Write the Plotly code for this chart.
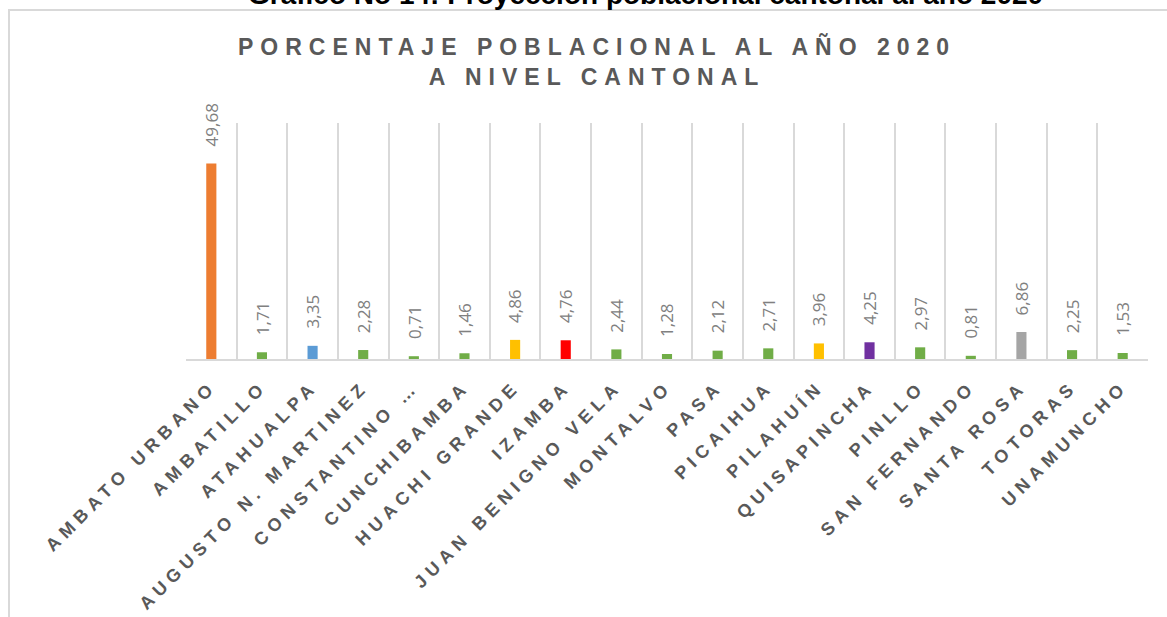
import plotly.graph_objects as go

# ---- data ----
categories = ["AMBATO URBANO", "AMBATILLO", "ATAHUALPA", "AUGUSTO N. MARTINEZ",
              "CONSTANTINO …", "CUNCHIBAMBA", "HUACHI GRANDE", "IZAMBA",
              "JUAN BENIGNO VELA", "MONTALVO", "PASA", "PICAIHUA", "PILAHUÍN",
              "QUISAPINCHA", "PINLLO", "SAN FERNANDO", "SANTA ROSA", "TOTORAS",
              "UNAMUNCHO"]
values = [49.68, 1.71, 3.35, 2.28, 0.71, 1.46, 4.86, 4.76, 2.44, 1.28,
          2.12, 2.71, 3.96, 4.25, 2.97, 0.81, 6.86, 2.25, 1.53]
bar_colors = ["#ED7D31", "#70AD47", "#5B9BD5", "#70AD47", "#70AD47", "#70AD47",
              "#FFC000", "#FF0000", "#70AD47", "#70AD47", "#70AD47", "#70AD47",
              "#FFC000", "#7030A0", "#70AD47", "#70AD47", "#A5A5A5", "#70AD47",
              "#70AD47"]
page_title = "Gráfico No 14: Proyección poblacional cantonal al año 2020"
chart_title = "PORCENTAJE POBLACIONAL AL AÑO 2020<br>A NIVEL CANTONAL"

W, H = 1167, 617
L, R, T, B = 186, 19, 123, 258
pw, ph = W - L - R, H - T - B


def px_x(p):
    return (p - L) / pw


def px_y(p):
    return (H - B - p) / ph


fig = go.Figure()
fig.add_trace(go.Bar(
    x=categories, y=values, width=0.2,
    marker=dict(color=bar_colors, line=dict(width=0)),
    hoverinfo="x+y", showlegend=False,
))

# data labels
for c, v in zip(categories, values):
    fig.add_annotation(
        x=c, y=v, xref="x", yref="y", text=f"{v:.2f}".replace(".", ","),
        textangle=-90, showarrow=False, yanchor="bottom", xanchor="center",
        yshift=15, font=dict(family="Open Sans", size=17, color="#808080"),
    )

# chart title
fig.add_annotation(
    x=px_x(597), y=px_y(61.5), xref="paper", yref="paper", text=chart_title,
    showarrow=False, xanchor="center", yanchor="middle",
    font=dict(family="Liberation Sans", size=23, color="#595959", weight="bold"),
)

# page caption (cut off at the top, as in the source)
fig.add_annotation(
    x=px_x(645), y=px_y(12), xref="paper", yref="paper", text=page_title,
    showarrow=False, xanchor="center", yanchor="bottom",
    font=dict(family="Liberation Sans", size=28, color="#000000", weight="bold"),
)

# chart frame
fig.add_shape(type="rect", xref="paper", yref="paper",
              x0=px_x(9), y0=px_y(640), x1=px_x(1200), y1=px_y(10),
              line=dict(color="#D9D9D9", width=2), fillcolor="rgba(0,0,0,0)",
              layer="below")

fig.update_layout(
    width=W, height=H,
    margin=dict(l=L, r=R, t=T, b=B, autoexpand=False),
    paper_bgcolor="white", plot_bgcolor="white",
    bargap=0.8,
    xaxis=dict(
        type="category", tickson="boundaries", showgrid=True,
        gridcolor="#D9D9D9", gridwidth=2, showline=True, linecolor="#D9D9D9",
        linewidth=2, ticks="", tickangle=-45, automargin=False,
        ticklabelstandoff=8,
        tickfont=dict(family="Liberation Sans", size=18, color="#595959",
                      weight="bold"),
    ),
    yaxis=dict(range=[0, 60], visible=False, fixedrange=True),
)

post_js = """
document.body.style.margin = '0';
var gd = document.getElementById('{plot_id}');
function sp(){
  gd.querySelectorAll('.xtick text').forEach(function(t){ t.style.letterSpacing = '5.5px'; });
  gd.querySelectorAll('.annotation-text').forEach(function(t){
    var s = t.textContent;
    if (s.indexOf('PORCENTAJE') >= 0) { t.style.letterSpacing = '7px'; }
  });
}
sp();
gd.on('plotly_afterplot', sp);
"""

fig.write_html("out.html", post_script=post_js,
               config={"displayModeBar": False})
